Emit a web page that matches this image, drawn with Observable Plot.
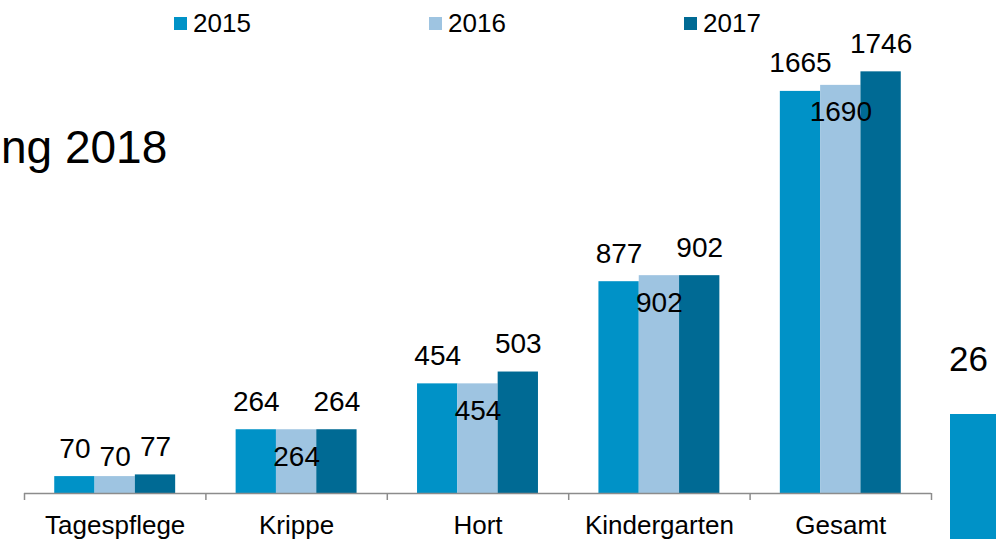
<!DOCTYPE html>
<html>
<head>
<meta charset="utf-8">
<script src="https://cdn.jsdelivr.net/npm/d3@7"></script>
<script src="https://cdn.jsdelivr.net/npm/@observablehq/plot@0.6"></script>
<style>
  html, body { margin: 0; padding: 0; background: #fff; overflow: hidden; }
  body { width: 1004px; height: 539px; position: relative; font-family: "Liberation Sans", Arial, sans-serif; }
  #chart { position: absolute; left: 0; top: 0; }
  .legend-item { position: absolute; top: 8px; height: 30px; display: flex; align-items: center; font-size: 26px; color: #000; }
  .legend-sw { width: 13px; height: 13px; margin-right: 6px; }
  #side-title { position: absolute; left: 1px; top: 120px; font-size: 46px; color: #000; white-space: nowrap; }
  #side-num { position: absolute; left: 949px; top: 339px; font-size: 35px; color: #000; }
  #side-bar { position: absolute; left: 950px; top: 414px; width: 46px; height: 125px; }
</style>
</head>
<body>
<div id="side-title">ng 2018</div>
<div id="side-num">26</div>
<div id="side-bar"></div>
<div id="legend"></div>
<div id="chart"></div>
<script>
const categories = ["Tagespflege", "Krippe", "Hort", "Kindergarten", "Gesamt"];
const years = ["2015", "2016", "2017"];
const values2015 = [70, 264, 454, 877, 1665];
const values2016 = [70, 264, 454, 902, 1690];
const values2017 = [77, 264, 503, 902, 1746];
const colors = ["#0092C7", "#9EC4E1", "#006A94"];

const series = [values2015, values2016, values2017];
const data = [];
categories.forEach((c, ci) => {
  years.forEach((y, yi) => {
    data.push({category: c, ci, year: y, yi, value: series[yi][ci]});
  });
});

// bar geometry in category units
const groupStart = 1 / 6, barW = 2 / 9;
const x1 = d => d.ci + groupStart + d.yi * barW;
const x2 = d => d.ci + groupStart + (d.yi + 1) * barW;
const xc = d => d.ci + groupStart + (d.yi + 0.5) * barW;

const outer = data.filter(d => d.yi !== 1);
const mid = data.filter(d => d.yi === 1);

const chart = Plot.plot({
  width: 1004,
  height: 539,
  marginLeft: 24,
  marginRight: 73,
  marginTop: 10,
  marginBottom: 46,
  style: {fontFamily: "'Liberation Sans', Arial, sans-serif", background: "transparent", overflow: "visible"},
  x: {type: "linear", domain: [0, categories.length], axis: null},
  y: {domain: [0, 2000], axis: null},
  color: {domain: years, range: colors},
  marks: [
    Plot.rectY(data, {x1, x2, y1: 0, y2: "value", fill: "year"}),
    Plot.ruleY([0], {stroke: "#8c8c8c", strokeWidth: 1.5}),
    Plot.axisX({ticks: d3.range(categories.length + 1), tickSize: 7, stroke: "#8c8c8c", strokeWidth: 1.5, tickFormat: () => "", strokeOpacity: 1}),
    Plot.axisX({ticks: d3.range(categories.length).map(i => i + 0.5), tickSize: 0, tickPadding: 22,
      tickFormat: v => categories[Math.floor(v)], fontSize: 26, fill: "#000"}),
    Plot.text(outer, {x: xc, y: "value", text: d => String(d.value), dy: -28, lineAnchor: "middle", fontSize: 28, fill: "#000"}),
    Plot.text(mid.filter(d => d.value >= 150), {x: xc, y: "value", text: d => String(d.value), dy: 27, lineAnchor: "middle", fontSize: 28, fill: "#000"}),
    Plot.text(mid.filter(d => d.value < 150), {x: xc, y: "value", text: d => String(d.value), dy: -20, lineAnchor: "middle", fontSize: 28, fill: "#000"})
  ]
});
document.getElementById("chart").appendChild(chart);

// legend
const legendX = [174, 429, 684];
const legend = document.getElementById("legend");
years.forEach((y, i) => {
  const item = document.createElement("div");
  item.className = "legend-item";
  item.style.left = legendX[i] + "px";
  const sw = document.createElement("div");
  sw.className = "legend-sw";
  sw.style.background = colors[i];
  const label = document.createElement("span");
  label.textContent = y;
  item.appendChild(sw);
  item.appendChild(label);
  legend.appendChild(item);
});
document.getElementById("side-bar").style.background = colors[0];
</script>
</body>
</html>
